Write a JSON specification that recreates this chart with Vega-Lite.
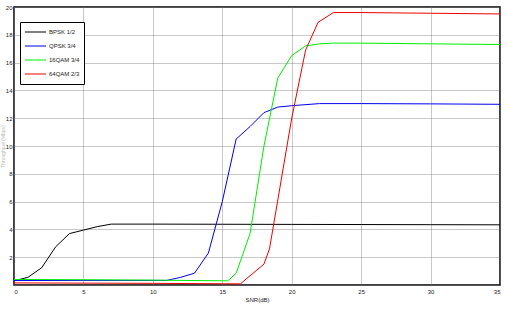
{
  "$schema": "https://vega.github.io/schema/vega-lite/v6.json",
  "width": 486,
  "height": 278,
  "autosize": {"type": "none"},
  "padding": {"left": 14, "top": 7, "right": 8, "bottom": 29},
  "background": "white",
  "config": {
    "font": "Liberation Sans",
    "view": {"stroke": "black", "strokeWidth": 1.5},
    "axis": {
      "labelFontSize": 6,
      "labelColor": "#222",
      "titleFontSize": 6,
      "titleFontWeight": "normal",
      "titleColor": "#222",
      "domain": false,
      "grid": true,
      "gridColor": "#777",
      "gridWidth": 0.8,
      "gridDash": [1, 1],
      "ticks": false
    }
  },
  "data": {
    "values": [
      {"snr": 0, "thr": 0.3, "mod": "BPSK 1/2"},
      {"snr": 1, "thr": 0.55, "mod": "BPSK 1/2"},
      {"snr": 2, "thr": 1.25, "mod": "BPSK 1/2"},
      {"snr": 3, "thr": 2.75, "mod": "BPSK 1/2"},
      {"snr": 4, "thr": 3.7, "mod": "BPSK 1/2"},
      {"snr": 5, "thr": 3.95, "mod": "BPSK 1/2"},
      {"snr": 6, "thr": 4.2, "mod": "BPSK 1/2"},
      {"snr": 7, "thr": 4.38, "mod": "BPSK 1/2"},
      {"snr": 10, "thr": 4.38, "mod": "BPSK 1/2"},
      {"snr": 15, "thr": 4.37, "mod": "BPSK 1/2"},
      {"snr": 20, "thr": 4.36, "mod": "BPSK 1/2"},
      {"snr": 25, "thr": 4.35, "mod": "BPSK 1/2"},
      {"snr": 30, "thr": 4.34, "mod": "BPSK 1/2"},
      {"snr": 35, "thr": 4.33, "mod": "BPSK 1/2"},

      {"snr": 0, "thr": 0.32, "mod": "QPSK 3/4"},
      {"snr": 5, "thr": 0.33, "mod": "QPSK 3/4"},
      {"snr": 10, "thr": 0.33, "mod": "QPSK 3/4"},
      {"snr": 11, "thr": 0.33, "mod": "QPSK 3/4"},
      {"snr": 12, "thr": 0.55, "mod": "QPSK 3/4"},
      {"snr": 13, "thr": 0.85, "mod": "QPSK 3/4"},
      {"snr": 14, "thr": 2.3, "mod": "QPSK 3/4"},
      {"snr": 15, "thr": 6.0, "mod": "QPSK 3/4"},
      {"snr": 16, "thr": 10.5, "mod": "QPSK 3/4"},
      {"snr": 17, "thr": 11.4, "mod": "QPSK 3/4"},
      {"snr": 18, "thr": 12.4, "mod": "QPSK 3/4"},
      {"snr": 19, "thr": 12.8, "mod": "QPSK 3/4"},
      {"snr": 20, "thr": 12.9, "mod": "QPSK 3/4"},
      {"snr": 22, "thr": 13.05, "mod": "QPSK 3/4"},
      {"snr": 25, "thr": 13.05, "mod": "QPSK 3/4"},
      {"snr": 30, "thr": 13.03, "mod": "QPSK 3/4"},
      {"snr": 35, "thr": 13.0, "mod": "QPSK 3/4"},

      {"snr": 0, "thr": 0.4, "mod": "16QAM 3/4"},
      {"snr": 5, "thr": 0.38, "mod": "16QAM 3/4"},
      {"snr": 10, "thr": 0.35, "mod": "16QAM 3/4"},
      {"snr": 15.4, "thr": 0.3, "mod": "16QAM 3/4"},
      {"snr": 16, "thr": 0.85, "mod": "16QAM 3/4"},
      {"snr": 17, "thr": 3.7, "mod": "16QAM 3/4"},
      {"snr": 18, "thr": 10.0, "mod": "16QAM 3/4"},
      {"snr": 19, "thr": 14.9, "mod": "16QAM 3/4"},
      {"snr": 20, "thr": 16.5, "mod": "16QAM 3/4"},
      {"snr": 21, "thr": 17.2, "mod": "16QAM 3/4"},
      {"snr": 22, "thr": 17.35, "mod": "16QAM 3/4"},
      {"snr": 23, "thr": 17.4, "mod": "16QAM 3/4"},
      {"snr": 25, "thr": 17.4, "mod": "16QAM 3/4"},
      {"snr": 30, "thr": 17.35, "mod": "16QAM 3/4"},
      {"snr": 35, "thr": 17.3, "mod": "16QAM 3/4"},

      {"snr": 0, "thr": 0.15, "mod": "64QAM 2/3"},
      {"snr": 10, "thr": 0.12, "mod": "64QAM 2/3"},
      {"snr": 16.3, "thr": 0.08, "mod": "64QAM 2/3"},
      {"snr": 18, "thr": 1.5, "mod": "64QAM 2/3"},
      {"snr": 18.4, "thr": 2.6, "mod": "64QAM 2/3"},
      {"snr": 20, "thr": 12.0, "mod": "64QAM 2/3"},
      {"snr": 21, "thr": 16.9, "mod": "64QAM 2/3"},
      {"snr": 21.9, "thr": 18.9, "mod": "64QAM 2/3"},
      {"snr": 23, "thr": 19.6, "mod": "64QAM 2/3"},
      {"snr": 25, "thr": 19.6, "mod": "64QAM 2/3"},
      {"snr": 30, "thr": 19.55, "mod": "64QAM 2/3"},
      {"snr": 35, "thr": 19.5, "mod": "64QAM 2/3"}
    ]
  },
  "mark": {"type": "line", "strokeWidth": 1, "clip": true},
  "encoding": {
    "x": {
      "field": "snr",
      "type": "quantitative",
      "scale": {"domain": [0, 35], "nice": false, "zero": false},
      "axis": {"values": [0, 5, 10, 15, 20, 25, 30, 35], "title": "SNR(dB)", "labelPadding": 3, "titlePadding": 2}
    },
    "y": {
      "field": "thr",
      "type": "quantitative",
      "scale": {"domain": [0, 20], "nice": false},
      "axis": {"values": [0, 2, 4, 6, 8, 10, 12, 14, 16, 18, 20], "labelExpr": "datum.value == 0 ? '' : datum.label", "title": "Throughput (Mbps)", "titleFontSize": 5, "titleColor": "#bbb", "labelPadding": 2, "titlePadding": 0}
    },
    "color": {
      "field": "mod",
      "type": "nominal",
      "sort": null,
      "scale": {
        "domain": ["BPSK 1/2", "QPSK 3/4", "16QAM 3/4", "64QAM 2/3"],
        "range": ["#000000", "#0000ee", "#00ee00", "#ee0000"]
      },
      "legend": {
        "title": null,
        "orient": "none",
        "legendX": 6,
        "legendY": 15,
        "fillColor": "white",
        "strokeColor": "black",
        "padding": 4,
        "symbolType": "stroke",
        "symbolSize": 450,
        "symbolStrokeWidth": 1.2,
        "clipHeight": 12,
        "labelFontSize": 6,
        "labelColor": "#222",
        "labelOffset": 2
      }
    }
  }
}
